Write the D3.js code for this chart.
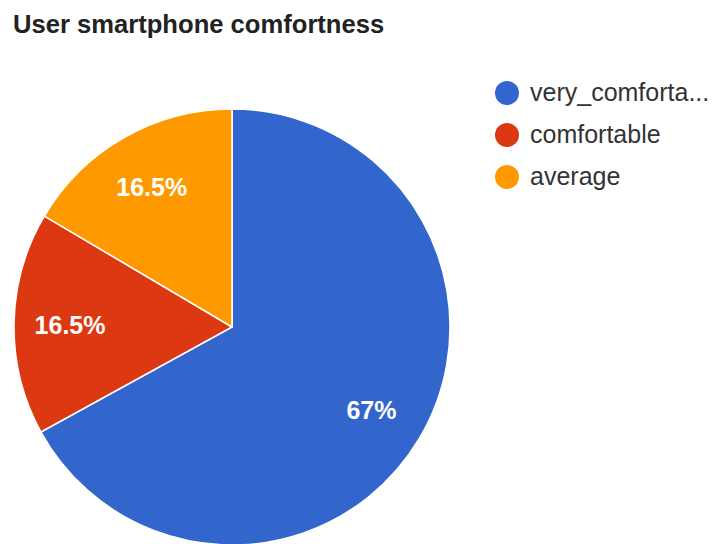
<!DOCTYPE html>
<html lang="en">
<head>
    <meta charset="UTF-8">
    <title>User smartphone comfortness</title>
    <script src="https://d3js.org/d3.v7.min.js"></script>
    <style>
        html, body { margin: 0; padding: 0; background: #fff; }
        svg { display: block; font-family: Arial, "Liberation Sans", sans-serif; }
    </style>
</head>
<body>
    <script>
        // data
        const categories = ["very_comfortable", "comfortable", "average"];
        const legendLabels = ["very_comforta...", "comfortable", "average"];
        const values = [67, 16.5, 16.5];
        const sliceLabels = ["67%", "16.5%", "16.5%"];
        const colors = ["#3366cc", "#dc3912", "#ff9900"];

        const width = 723, height = 544;
        const cx = 232, cy = 327, radius = 218;

        let svg = d3.select("body")
                    .append("svg")
                    .attr("width", width)
                    .attr("height", height);

        svg.append("text")
           .attr("x", 13)
           .attr("y", 33)
           .attr("font-size", 25.6)
           .attr("font-weight", "bold")
           .attr("fill", "#222")
           .text("User smartphone comfortness");

        let color = d3.scaleOrdinal().domain(categories).range(colors);

        let pie = d3.pie().sort(null).value(d => d.value);
        let data = categories.map((c, i) => ({ name: c, value: values[i], label: sliceLabels[i] }));

        let arc = d3.arc().innerRadius(0).outerRadius(radius);
        let labelArc = d3.arc().innerRadius(162).outerRadius(162);

        let g = svg.append("g").attr("transform", `translate(${cx},${cy})`);

        let slices = g.selectAll("g.slice")
                      .data(pie(data))
                      .enter()
                      .append("g")
                      .attr("class", "slice");

        slices.append("path")
              .attr("d", arc)
              .attr("fill", d => color(d.data.name))
              .attr("stroke", "#fff")
              .attr("stroke-width", 1.5);

        slices.append("text")
              .attr("transform", d => `translate(${labelArc.centroid(d)})`)
              .attr("text-anchor", "middle")
              .attr("dy", "0.38em")
              .attr("font-size", 25)
              .attr("font-weight", "bold")
              .attr("fill", "#fff")
              .text(d => d.data.label);

        // legend
        let legend = svg.append("g")
                        .selectAll("g")
                        .data(categories)
                        .enter()
                        .append("g")
                        .attr("transform", (d, i) => `translate(507,${93 + i * 42})`);

        legend.append("circle")
              .attr("r", 12)
              .attr("fill", d => color(d));

        legend.append("text")
              .attr("x", 23)
              .attr("y", 8)
              .attr("font-size", 25)
              .attr("fill", "#333")
              .text((d, i) => legendLabels[i]);
    </script>
</body>
</html>
